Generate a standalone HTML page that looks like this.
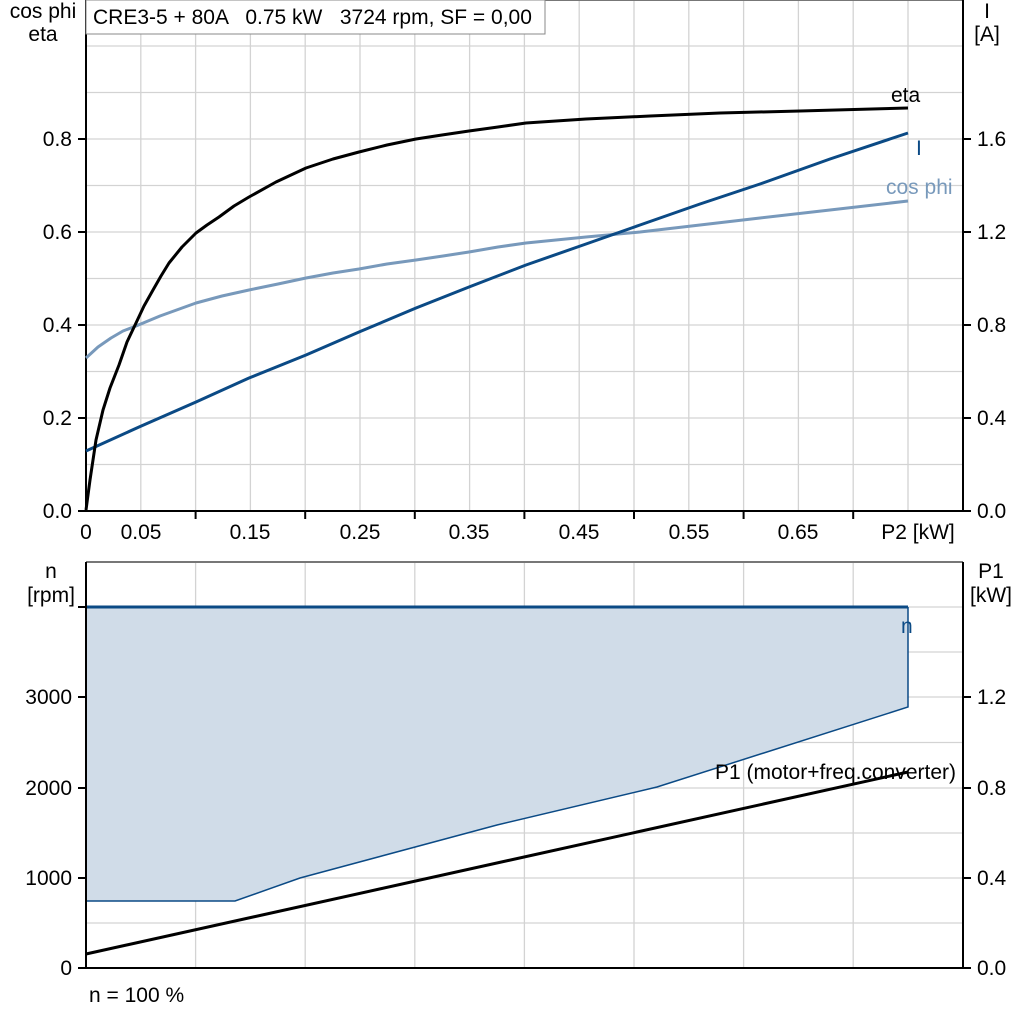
<!DOCTYPE html>
<html><head><style>body{margin:0;background:#fff}svg{display:block}text{font-family:"Liberation Sans",sans-serif;font-size:21px;fill:#000;white-space:pre}</style></head><body>
<svg width="1024" height="1024" viewBox="0 0 1024 1024" font-family="Liberation Sans, sans-serif" font-size="21">
<g stroke="#d3d3d3" stroke-width="1.3">
<line x1="140.8" y1="0" x2="140.8" y2="511"/><line x1="195.6" y1="0" x2="195.6" y2="511"/><line x1="250.4" y1="0" x2="250.4" y2="511"/><line x1="305.2" y1="0" x2="305.2" y2="511"/><line x1="360" y1="0" x2="360" y2="511"/><line x1="414.8" y1="0" x2="414.8" y2="511"/><line x1="469.6" y1="0" x2="469.6" y2="511"/><line x1="524.4" y1="0" x2="524.4" y2="511"/><line x1="579.2" y1="0" x2="579.2" y2="511"/><line x1="634" y1="0" x2="634" y2="511"/><line x1="688.8" y1="0" x2="688.8" y2="511"/><line x1="743.6" y1="0" x2="743.6" y2="511"/><line x1="798.4" y1="0" x2="798.4" y2="511"/><line x1="853.2" y1="0" x2="853.2" y2="511"/><line x1="908" y1="0" x2="908" y2="511"/>
<line x1="86" y1="46" x2="963" y2="46"/><line x1="86" y1="92.5" x2="963" y2="92.5"/><line x1="86" y1="139" x2="963" y2="139"/><line x1="86" y1="185.5" x2="963" y2="185.5"/><line x1="86" y1="232" x2="963" y2="232"/><line x1="86" y1="278.5" x2="963" y2="278.5"/><line x1="86" y1="325" x2="963" y2="325"/><line x1="86" y1="371.5" x2="963" y2="371.5"/><line x1="86" y1="418" x2="963" y2="418"/><line x1="86" y1="464.5" x2="963" y2="464.5"/>
<line x1="195.6" y1="562" x2="195.6" y2="968"/><line x1="305.2" y1="562" x2="305.2" y2="968"/><line x1="414.8" y1="562" x2="414.8" y2="968"/><line x1="524.4" y1="562" x2="524.4" y2="968"/><line x1="634" y1="562" x2="634" y2="968"/><line x1="743.6" y1="562" x2="743.6" y2="968"/><line x1="853.2" y1="562" x2="853.2" y2="968"/>
<line x1="86" y1="607" x2="963" y2="607"/><line x1="86" y1="652" x2="963" y2="652"/><line x1="86" y1="697" x2="963" y2="697"/><line x1="86" y1="742.5" x2="963" y2="742.5"/><line x1="86" y1="788" x2="963" y2="788"/><line x1="86" y1="833" x2="963" y2="833"/><line x1="86" y1="878" x2="963" y2="878"/><line x1="86" y1="923" x2="963" y2="923"/>
</g>
<line x1="86" y1="0" x2="963" y2="0" stroke="#777" stroke-width="2"/>
<g stroke="#000" stroke-width="2" fill="none">
<line x1="86" y1="0" x2="86" y2="512"/><line x1="963" y1="0" x2="963" y2="512"/><line x1="78" y1="511" x2="963" y2="511"/>
<line x1="78" y1="139" x2="86" y2="139"/><line x1="78" y1="232" x2="86" y2="232"/><line x1="78" y1="325" x2="86" y2="325"/><line x1="78" y1="418" x2="86" y2="418"/>
<line x1="963" y1="139" x2="971" y2="139"/><line x1="963" y1="232" x2="971" y2="232"/><line x1="963" y1="325" x2="971" y2="325"/><line x1="963" y1="418" x2="971" y2="418"/><line x1="963" y1="511" x2="971" y2="511"/>
<line x1="195.6" y1="511" x2="195.6" y2="519"/><line x1="305.2" y1="511" x2="305.2" y2="519"/><line x1="414.8" y1="511" x2="414.8" y2="519"/><line x1="524.4" y1="511" x2="524.4" y2="519"/><line x1="634" y1="511" x2="634" y2="519"/><line x1="743.6" y1="511" x2="743.6" y2="519"/><line x1="853.2" y1="511" x2="853.2" y2="519"/>
</g>
<rect x="86" y="0" width="459" height="34" fill="#fff" stroke="#888" stroke-width="1"/>
<text x="93" y="24" xml:space="preserve">CRE3-5 + 80A   0.75 kW   3724 rpm, SF = 0,00</text>
<polyline fill="none" stroke="#7899bb" stroke-width="3" stroke-linejoin="round" points="86,358 98,347 111,338 123,331 136,326 160,316 196,303 222,296 249,290 278,284 306,278 333,273 359,269 387,264 416,260 443,256 469,252 498,247 526,243 556,240 586,237 640,232 700,225 760,218 830,210 908,201"/>
<polyline fill="none" stroke="#0b4a85" stroke-width="3" stroke-linejoin="round" points="86,451 139,427 196,402 249,378 306,355 359,332 416,308 469,287 526,265 586,244 640,225 700,204 760,184 830,159 908,133"/>
<polyline fill="none" stroke="#000" stroke-width="3" stroke-linejoin="round" points="86,510 90,480 96,440 103,410 110,388 119,365 127,342 136,323 144,306 153,290 161,276 169,263 182,247 196,233 207,225 219,217 234,206 249,197 276,182 306,168 333,159 359,152 387,145 416,139 442,135 469,131 498,127 526,123 556,121 586,119 650,116 720,113 800,111 908,108"/>
<text x="891" y="102">eta</text>
<text x="916" y="155" fill="#0b4a85" style="fill:#0b4a85">I</text>
<text x="886" y="194" fill="#7899bb" style="fill:#7899bb">cos phi</text>
<text x="43" y="18" text-anchor="middle">cos phi</text><text x="43" y="41" text-anchor="middle">eta</text>
<text x="987" y="18" text-anchor="middle">I</text><text x="987" y="41" text-anchor="middle">[A]</text>
<g text-anchor="end"><text x="72" y="146">0.8</text><text x="72" y="239">0.6</text><text x="72" y="332">0.4</text><text x="72" y="425">0.2</text><text x="72" y="518">0.0</text></g>
<g><text x="977" y="146">1.6</text><text x="977" y="239">1.2</text><text x="977" y="332">0.8</text><text x="977" y="425">0.4</text><text x="977" y="518">0.0</text></g>
<g text-anchor="middle"><text x="86" y="539">0</text><text x="141" y="539">0.05</text><text x="250" y="539">0.15</text><text x="360" y="539">0.25</text><text x="469" y="539">0.35</text><text x="579" y="539">0.45</text><text x="689" y="539">0.55</text><text x="798" y="539">0.65</text><text x="918" y="539">P2 [kW]</text></g>
<polygon points="86,607 908,607 908,707 657,787 497,825 300,878 235,901 86,901" fill="#d0dce8"/>
<polyline points="86,901 235,901 300,878 497,825 657,787 908,707 908,607" fill="none" stroke="#0b4a85" stroke-width="1.5"/>
<line x1="86" y1="607" x2="908" y2="607" stroke="#0b4a85" stroke-width="3"/>
<line x1="86" y1="954" x2="908" y2="772" stroke="#000" stroke-width="3"/>
<line x1="86" y1="562" x2="963" y2="562" stroke="#777" stroke-width="2"/>
<g stroke="#000" stroke-width="2">
<line x1="86" y1="562" x2="86" y2="969"/><line x1="963" y1="562" x2="963" y2="969"/><line x1="78" y1="968" x2="963" y2="968"/>
<line x1="78" y1="607" x2="86" y2="607"/><line x1="78" y1="697" x2="86" y2="697"/><line x1="78" y1="788" x2="86" y2="788"/><line x1="78" y1="878" x2="86" y2="878"/>
<line x1="963" y1="697" x2="971" y2="697"/><line x1="963" y1="788" x2="971" y2="788"/><line x1="963" y1="878" x2="971" y2="878"/><line x1="963" y1="968" x2="971" y2="968"/>
</g>
<text x="901" y="633" fill="#0b4a85" style="fill:#0b4a85">n</text>
<text x="715" y="779">P1 (motor+freq.converter)</text>
<text x="51" y="578" text-anchor="middle">n</text><text x="51" y="602" text-anchor="middle">[rpm]</text>
<text x="991" y="578" text-anchor="middle">P1</text><text x="991" y="602" text-anchor="middle">[kW]</text>
<g text-anchor="end"><text x="72" y="704">3000</text><text x="72" y="795">2000</text><text x="72" y="885">1000</text><text x="72" y="975">0</text></g>
<g><text x="977" y="704">1.2</text><text x="977" y="795">0.8</text><text x="977" y="885">0.4</text><text x="977" y="975">0.0</text></g>
<text x="89" y="1002">n = 100 %</text>
</svg>
</body></html>
